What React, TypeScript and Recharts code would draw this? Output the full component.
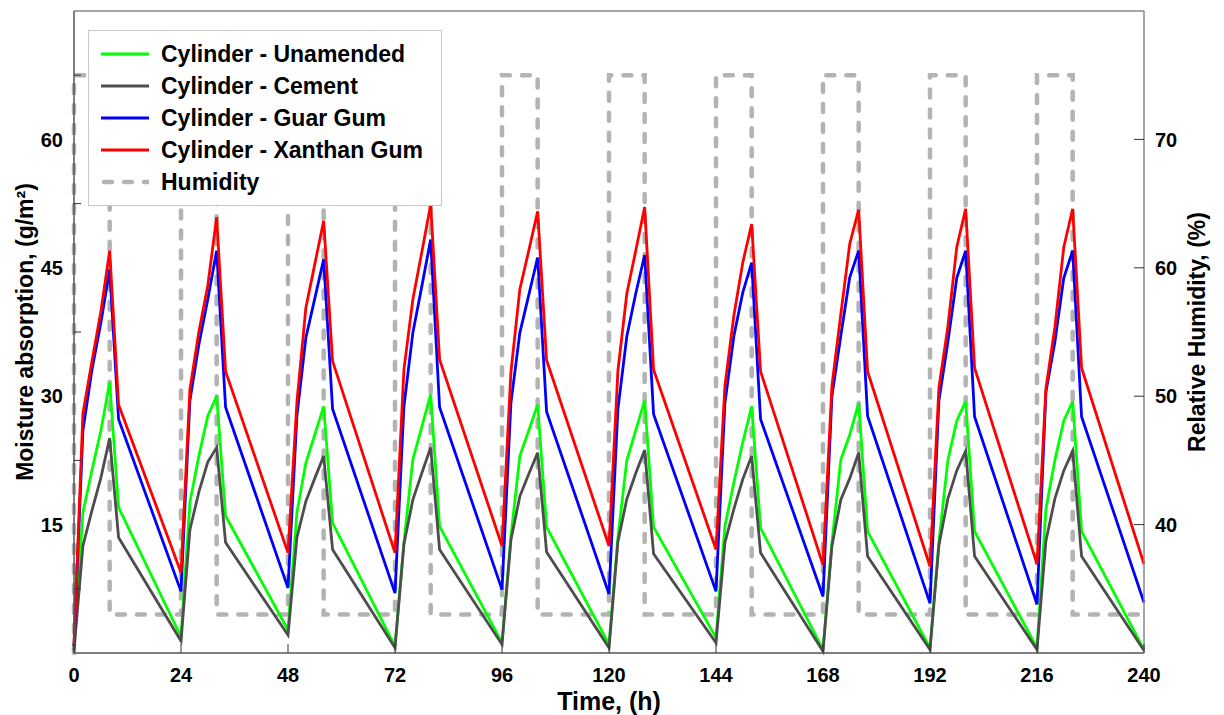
import { Legend, Line, LineChart, ReferenceLine, XAxis, YAxis } from "recharts";

// sampling times (h): start of cycle, +2, +4, +6, +8, +10, then next cycle
const hours = [
  0, 2, 4, 6, 8, 10, 24, 26, 28, 30, 32, 34, 48, 50, 52, 54, 56, 58, 72, 74, 76, 78, 80, 82,
  96, 98, 100, 102, 104, 106, 120, 122, 124, 126, 128, 130, 144, 146, 148, 150, 152, 154,
  168, 170, 172, 174, 176, 178, 192, 194, 196, 198, 200, 202, 216, 218, 220, 222, 224, 226, 240,
];

const unamended = [
  0.5, 16.4, 21.3, 25.9, 31.6, 17.0, 1.9, 17.6, 23.0, 27.7, 30.0, 16.0, 2.7, 16.4, 22.2, 25.5, 28.8, 15.2,
  0.8, 12.9, 22.6, 26.4, 30.2, 14.8, 1.2, 13.6, 23.0, 26.0, 29.0, 14.7, 1.0, 13.5, 22.5, 26.0, 29.5, 14.7,
  1.8, 14.8, 19.9, 24.6, 28.8, 14.6, 0.4, 12.9, 22.6, 25.5, 29.2, 14.2, 0.6, 13.0, 22.5, 27.1, 29.4, 14.2,
  0.6, 16.8, 22.5, 27.1, 29.4, 14.2, 0.4,
];

const cement = [
  0.3, 12.5, 16.6, 20.4, 25.1, 13.5, 1.4, 14.4, 18.8, 22.3, 24.0, 12.9, 2.1, 13.5, 17.7, 20.4, 23.0, 12.1,
  0.6, 12.7, 17.9, 21.0, 24.0, 12.1, 1.0, 13.2, 18.3, 20.9, 23.4, 11.8, 0.6, 13.0, 18.0, 21.0, 23.7, 11.6,
  1.2, 12.9, 16.8, 20.3, 23.0, 11.7, 0.2, 12.5, 17.9, 20.4, 23.4, 11.3, 0.4, 12.6, 18.0, 21.3, 23.6, 11.3,
  0.4, 13.1, 18.0, 21.3, 23.6, 11.3, 0.3,
];

const guarGum = [
  0.8, 26.0, 33.0, 38.5, 44.8, 27.3, 7.2, 29.5, 36.0, 41.3, 47.0, 28.7, 7.6, 27.7, 36.8, 41.4, 46.0, 28.5,
  7.0, 28.8, 37.4, 42.8, 48.3, 28.7, 7.4, 29.2, 37.4, 41.8, 46.2, 28.2, 6.9, 28.5, 37.0, 42.0, 46.5, 27.9,
  7.2, 29.2, 37.0, 42.1, 45.6, 27.3, 6.6, 30.0, 37.1, 43.9, 47.0, 27.7, 5.8, 29.5, 36.3, 43.8, 47.0, 27.6,
  5.7, 30.5, 36.3, 43.8, 47.0, 27.6, 5.9,
];

const xanthanGum = [
  1.0, 28.0, 34.0, 39.8, 47.0, 29.0, 9.4, 30.8, 37.5, 42.9, 50.9, 32.9, 11.7, 29.3, 40.3, 45.4, 50.5, 34.1,
  11.7, 33.1, 41.3, 46.8, 52.4, 34.3, 12.5, 32.8, 42.5, 47.0, 51.6, 34.2, 12.5, 33.0, 42.0, 47.0, 52.1, 33.1,
  12.1, 31.2, 39.4, 45.6, 50.1, 32.9, 10.3, 31.2, 39.6, 47.8, 51.8, 32.9, 10.1, 31.0, 38.1, 47.4, 51.9, 33.3,
  10.4, 30.9, 38.0, 47.4, 51.9, 33.3, 10.4,
];

// relative humidity steps (time, %)
const humidityHours = [
  0, 0, 8, 8, 24, 24, 32, 32, 48, 48, 56, 56, 72, 72, 80, 80, 96, 96, 104, 104, 120, 120, 128, 128,
  144, 144, 152, 152, 168, 168, 176, 176, 192, 192, 200, 200, 216, 216, 224, 224, 240,
];
const humidityValues = [
  30, 75, 75, 33, 33, 75, 75, 33, 33, 75, 75, 33, 33, 75, 75, 33, 33, 75, 75, 33, 33, 75, 75, 33,
  33, 75, 75, 33, 33, 75, 75, 33, 33, 75, 75, 33, 33, 75, 75, 33, 33,
];

const xTicks = [0, 24, 48, 72, 96, 120, 144, 168, 192, 216, 240];
const leftTicks = [7.5, 15, 22.5, 30, 37.5, 45, 52.5, 60, 67.5];
const rightTicks = [40, 50, 60, 70];

const FONT = "'Liberation Sans', Arial, sans-serif";
const HUMIDITY_COLOR = "#b3b3b3";

const series = [
  { key: "unamended", name: "Cylinder - Unamended", color: "#00ff00" },
  { key: "cement", name: "Cylinder - Cement", color: "#4d4d4d" },
  { key: "guar", name: "Cylinder - Guar Gum", color: "#0000ff" },
  { key: "xanthan", name: "Cylinder - Xanthan Gum", color: "#ff0000" },
];

const data = hours.map((t, i) => ({
  t,
  unamended: unamended[i],
  cement: cement[i],
  guar: guarGum[i],
  xanthan: xanthanGum[i],
}));
const humidity = humidityHours.map((t, i) => ({ t, rh: humidityValues[i] }));

// left axis: labels every 15, inward tick marks at the odd 7.5 steps
const LeftTick = (p: any) => {
  const v = p.payload.value;
  if (v % 15 === 0) {
    return (
      <text x={p.x} y={p.y} dy="0.36em" textAnchor="end" fontFamily={FONT} fontWeight="bold" fontSize={20} fill="#000">
        {v}
      </text>
    );
  }
  return <line x1={p.x + 11} x2={p.x + 18} y1={p.y} y2={p.y} stroke="#333" strokeWidth={1} />;
};

const RightTick = (p: any) => (
  <g>
    <line x1={p.x - 11} x2={p.x - 21} y1={p.y} y2={p.y} stroke="#333" strokeWidth={1} />
    <text x={p.x} y={p.y} dy="0.36em" textAnchor="start" fontFamily={FONT} fontWeight="bold" fontSize={20} fill="#000">
      {p.payload.value}
    </text>
  </g>
);

const BottomTick = (p: any) => (
  <g>
    <line x1={p.x} x2={p.x} y1={p.y - 8} y2={p.y - 17} stroke="#333" strokeWidth={1} />
    <text x={p.x} y={p.y + 21} textAnchor="middle" fontFamily={FONT} fontWeight="bold" fontSize={20} fill="#000">
      {p.payload.value}
    </text>
  </g>
);

function LegendBox() {
  return (
    <div
      style={{
        background: "#fff",
        border: "1px solid #c8c8c8",
        padding: "7px 0 7px 12px",
        fontFamily: FONT,
        fontWeight: "bold",
        fontSize: 23,
        color: "#000",
        boxSizing: "border-box",
        width: 354,
      }}
    >
      {series.map((s) => (
        <div key={s.key} style={{ display: "flex", alignItems: "center", height: 32 }}>
          <svg width={48} height={10} style={{ marginRight: 12 }}>
            <line x1={0} x2={48} y1={5} y2={5} stroke={s.color} strokeWidth={3} />
          </svg>
          <span>{s.name}</span>
        </div>
      ))}
      <div style={{ display: "flex", alignItems: "center", height: 32 }}>
        <svg width={48} height={10} style={{ marginRight: 12 }}>
          <line
            x1={3}
            x2={48}
            y1={5}
            y2={5}
            stroke={HUMIDITY_COLOR}
            strokeWidth={4.5}
            strokeDasharray="8 12"
            strokeLinecap="round"
          />
        </svg>
        <span>Humidity</span>
      </div>
    </div>
  );
}

export default function App() {
  return (
    <div style={{ position: "absolute", left: 0, top: 0, background: "#fff" }}>
      <LineChart width={1224} height={715} margin={{ top: 11, right: 0, bottom: 0, left: 0 }}>
        <XAxis
          dataKey="t"
          type="number"
          domain={[0, 240]}
          ticks={xTicks}
          height={62}
          tickSize={6}
          tickMargin={2}
          tickLine={false}
          tick={BottomTick}
          axisLine={{ stroke: "#555", strokeWidth: 1.5 }}
          allowDuplicatedCategory={false}
          label={{
            content: (p: any) => (
              <text
                x={p.viewBox.x + p.viewBox.width / 2}
                y={p.viewBox.y + 57}
                textAnchor="middle"
                fontFamily={FONT}
                fontWeight="bold"
                fontSize={25}
                fill="#000"
              >
                Time, (h)
              </text>
            ),
          }}
        />
        <YAxis
          yAxisId="left"
          orientation="left"
          width={74}
          domain={[0, 75]}
          ticks={leftTicks}
          tickSize={6}
          tickMargin={5}
          tickLine={false}
          tick={LeftTick}
          axisLine={{ stroke: "#555", strokeWidth: 1.5 }}
          label={{
            content: (p: any) => {
              const x = p.viewBox.x + 33;
              const y = p.viewBox.y + p.viewBox.height / 2;
              return (
                <text
                  x={x}
                  y={y}
                  transform={`rotate(-90 ${x} ${y})`}
                  textAnchor="middle"
                  fontFamily={FONT}
                  fontWeight="bold"
                  fontSize={23}
                  fill="#000"
                >
                  Moisture absorption, (g/m²)
                </text>
              );
            },
          }}
        />
        <YAxis
          yAxisId="right"
          orientation="right"
          width={80}
          domain={[30, 80]}
          ticks={rightTicks}
          tickSize={6}
          tickMargin={5}
          tickLine={false}
          tick={RightTick}
          axisLine={{ stroke: "#888", strokeWidth: 1.5 }}
          label={{
            content: (p: any) => {
              const x = p.viewBox.x + 61;
              const y = p.viewBox.y + p.viewBox.height / 2;
              return (
                <text
                  x={x}
                  y={y}
                  transform={`rotate(-90 ${x} ${y})`}
                  textAnchor="middle"
                  fontFamily={FONT}
                  fontWeight="bold"
                  fontSize={23}
                  fill="#000"
                >
                  Relative Humidity, (%)
                </text>
              );
            },
          }}
        />
        <ReferenceLine yAxisId="left" y={75} stroke="#888" strokeWidth={1.5} />
        <Line
          yAxisId="right"
          data={humidity}
          dataKey="rh"
          name="Humidity"
          type="linear"
          stroke={HUMIDITY_COLOR}
          strokeWidth={4.5}
          strokeDasharray="8 12"
          strokeLinecap="round"
          dot={false}
          activeDot={false}
          isAnimationActive={false}
        />
        {series.map((s) => (
          <Line
            key={s.key}
            yAxisId="left"
            data={data}
            dataKey={s.key}
            name={s.name}
            type="linear"
            stroke={s.color}
            strokeWidth={2.8}
            dot={false}
            activeDot={false}
            isAnimationActive={false}
          />
        ))}
        <Legend
          layout="vertical"
          align="center"
          verticalAlign="middle"
          wrapperStyle={{ left: 88, top: 30, width: 354, height: "auto" }}
          content={() => <LegendBox />}
        />
      </LineChart>
    </div>
  );
}
